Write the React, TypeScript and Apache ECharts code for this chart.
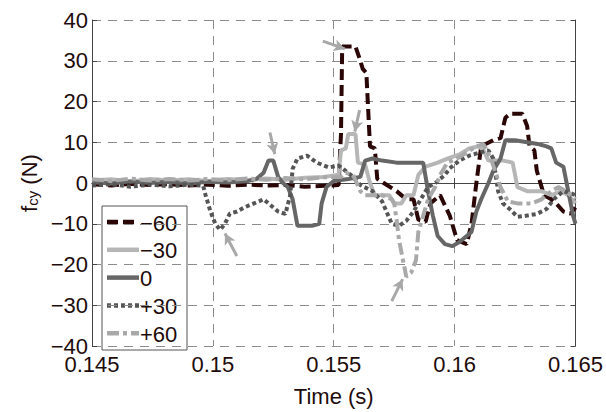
import React, { useEffect, useRef } from 'react';
import * as echarts from 'echarts';

// Axis ranges
const X_MIN = 0.145;
const X_MAX = 0.165;
const X_STEP = 0.005;
const Y_MIN = -40;
const Y_MAX = 40;
const Y_STEP = 10;

// Legend / series names
const NAMES = ['\u221260', '\u221230', '0', '+30', '+60'];

// f_cy (N) vs time (s)
const M60: [number, number][] = [
  [0.145, -0.3], [0.1458, -0.6], [0.1466, -0.2], [0.1474, -0.5], [0.1482, -0.3], [0.149, -0.6],
  [0.1498, -0.4], [0.1506, -0.7], [0.1514, -0.4], [0.1522, -0.6], [0.153, -0.5], [0.1538, -0.9],
  [0.1546, -0.7], [0.1552, -0.5], [0.1553, 12], [0.15535, 33.5], [0.1559, 33.5], [0.1561, 30],
  [0.1562, 28], [0.15635, 27], [0.1565, 9], [0.1567, 8.5], [0.1568, 1], [0.1572, -0.5],
  [0.1576, -2], [0.158, -4], [0.1583, -4], [0.1585, -9], [0.1588, -9.5], [0.159, -5],
  [0.1594, -3], [0.1598, -8], [0.1601, -14], [0.1605, -15], [0.1607, -10], [0.1609, 0],
  [0.1611, 9], [0.1616, 10.5], [0.1619, 11], [0.1621, 16], [0.1623, 17], [0.1628, 17],
  [0.163, 14], [0.1631, 9], [0.1633, 8], [0.1634, 3], [0.1637, -3], [0.164, -4],
  [0.1642, -5], [0.1645, -7], [0.1648, -7.5], [0.165, -6],
];
const M30: [number, number][] = [
  [0.145, 0.6], [0.1458, 0.9], [0.1466, 0.4], [0.1474, 1], [0.1482, 0.6], [0.149, 0.9],
  [0.1498, 0.5], [0.1506, 1], [0.1514, 0.7], [0.1522, 1.1], [0.153, 0.8], [0.1538, 1.3],
  [0.1546, 1.5], [0.1552, 2], [0.1553, 8], [0.1555, 8.5], [0.1556, 12], [0.1559, 12],
  [0.156, 5], [0.1563, 4.5], [0.1565, 0], [0.1567, -3], [0.1573, -3], [0.1575, -5],
  [0.1578, -5], [0.158, -3], [0.1583, -3], [0.1585, 2], [0.1588, 4], [0.1593, 5],
  [0.1597, 6], [0.1602, 7], [0.1606, 8.5], [0.161, 9], [0.1612, 8], [0.1614, 5.5],
  [0.162, 5.5], [0.1624, 5], [0.1626, -1], [0.163, -2], [0.1636, -2], [0.164, -3],
  [0.1644, -2], [0.1647, -3], [0.165, -5],
];
const ZERO: [number, number][] = [
  [0.145, 0.2], [0.1458, -0.1], [0.1466, 0.4], [0.1474, 0], [0.1482, 0.3], [0.149, -0.1],
  [0.1498, 0.3], [0.1506, 0.1], [0.1514, 0.4], [0.1518, 1], [0.1521, 2.5], [0.1523, 5.5],
  [0.1525, 5.5], [0.1527, 1.5], [0.1529, 0], [0.1531, -1], [0.1533, -4], [0.1535, -10.5],
  [0.1541, -10.5], [0.1544, -10], [0.1545, -5], [0.1547, -1], [0.155, 0.5], [0.1556, 1],
  [0.1561, 1.5], [0.1563, 5.5], [0.1566, 6], [0.157, 5.5], [0.1576, 5], [0.1587, 5],
  [0.1589, -2], [0.1591, -8], [0.1593, -13], [0.1596, -15], [0.1599, -15.5], [0.1602, -14.5],
  [0.1605, -13], [0.1607, -12], [0.1609, -7], [0.1611, -4], [0.1614, 0], [0.1616, 3],
  [0.1619, 6], [0.1621, 10.5], [0.1625, 10.5], [0.163, 10], [0.1635, 9.5], [0.1638, 9],
  [0.164, 8.5], [0.1642, 5], [0.1645, 4], [0.1647, -2], [0.1649, -8], [0.165, -10],
];
const P30: [number, number][] = [
  [0.145, -0.6], [0.1458, -0.3], [0.1466, -0.9], [0.1474, -0.4], [0.1482, -0.8], [0.149, -0.4],
  [0.1496, -0.7], [0.1497, -3], [0.1499, -7], [0.1501, -10], [0.1503, -11.5], [0.1505, -10],
  [0.1507, -7.5], [0.151, -7], [0.1513, -6], [0.1517, -5], [0.1521, -4], [0.1524, -5.5],
  [0.1527, -7], [0.153, -7.6], [0.1532, -3], [0.1533, 3.5], [0.1535, 6], [0.1539, 6.7],
  [0.1543, 5], [0.1548, 3.8], [0.1552, 4.3], [0.1557, 2], [0.1561, -0.5], [0.1566, -2],
  [0.157, -4.5], [0.1574, -10], [0.1577, -10.5], [0.158, -9.3], [0.1583, -7], [0.1586, -4],
  [0.1589, -1], [0.1592, 0], [0.1596, 2], [0.1598, 3.6], [0.1602, 5.5], [0.1606, 6.7],
  [0.161, 7.4], [0.1614, 8], [0.1616, 6], [0.1617, 2], [0.1618, -2], [0.162, -5],
  [0.1623, -6.5], [0.1626, -8.3], [0.163, -8], [0.1634, -7.6], [0.1638, -6.4], [0.1641, -4],
  [0.1645, -2], [0.1648, -2.5], [0.165, -3],
];
const P60: [number, number][] = [
  [0.145, 0.9], [0.1458, 0.5], [0.1466, 1.1], [0.1474, 0.6], [0.1482, 1], [0.149, 0.6],
  [0.1498, 1], [0.1506, 0.7], [0.1514, 1.1], [0.1522, 0.8], [0.153, 1.2], [0.1538, 0.9],
  [0.1546, 1.4], [0.1553, 1.5], [0.1555, 2.5], [0.1558, 2], [0.1561, -2], [0.1563, -3],
  [0.157, -3], [0.1574, -4], [0.1575, -5], [0.1576, -9], [0.1577, -14], [0.1579, -20],
  [0.158, -23], [0.1582, -22], [0.1584, -19], [0.1585, -12], [0.1587, -8], [0.1589, -4],
  [0.1592, -1], [0.1594, 2], [0.1597, 5], [0.1601, 6], [0.1605, 7.5], [0.1609, 9],
  [0.1612, 9.5], [0.1615, 6], [0.1617, 2.5], [0.1619, -1], [0.1622, -4.5], [0.1626, -5],
  [0.1632, -5], [0.1636, -4], [0.164, -2], [0.1643, -1], [0.1646, -2], [0.165, -4],
];

// Annotation arrows: [start, end] in data coordinates
const ARROWS: [[number, number], [number, number]][] = [
  [[0.15455, 34.8], [0.15546, 32.9]],
  [[0.15236, 12.4], [0.15256, 7.1]],
  [[0.15607, 17.9], [0.15587, 12.6]],
  [[0.15099, -17.9], [0.1505, -12.4]],
  [[0.1574, -29], [0.15785, -23.6]],
];

const SERIES_DATA = [M60, M30, ZERO, P30, P60];
const COLORS = ['#2a0606', '#b6b6b6', '#666666', '#555555', '#a9a9a9'];
const DASHES: any[] = [[11, 5], 'solid', 'solid', [4, 3], [12, 4, 4, 4]];
const LEGEND_DASH: any[] = [[11, 5], null, null, [4, 3], [12, 4, 4, 4]];

const FONT = 'Liberation Sans';
const TEXT = '#1e0b0b';

function fmtY(v: number) {
  return v < 0 ? '\u2212' + Math.abs(v) : String(v);
}
function fmtX(v: number) {
  return String(+v.toFixed(3));
}

export default function App() {
  const ref = useRef<HTMLDivElement>(null);
  useEffect(() => {
    if (!ref.current) return;
    const chart = echarts.init(ref.current, undefined, { renderer: 'svg' });
    const axisCommon = {
      axisLine: { show: true, lineStyle: { color: '#444', width: 1 } },
      axisTick: { show: true, inside: true, length: 5, lineStyle: { color: '#444' } },
    };
    const series: any[] = SERIES_DATA.map((d, i) => ({
      name: NAMES[i],
      type: 'line',
      data: d,
      symbol: 'none',
      xAxisIndex: 0,
      yAxisIndex: 0,
      lineStyle: { color: COLORS[i], width: 4, type: DASHES[i], cap: 'butt' },
      itemStyle: { color: COLORS[i] },
      silent: true,
    }));
    series.push({
      name: 'arrows',
      type: 'line',
      data: [],
      symbol: 'none',
      silent: true,
      markLine: {
        silent: true,
        symbol: ['none', 'arrow'],
        symbolSize: [9, 11],
        label: { show: false },
        lineStyle: { color: '#a8a8a8', width: 3, type: 'solid' },
        data: ARROWS.map(([a, b]) => [{ coord: a }, { coord: b }]),
      },
    });

    // Legend drawn as a boxed graphic group
    const LG_X = 102, LG_Y = 206, LG_W = 85, LG_H = 144, ROW0 = 222, ROW_STEP = 27.8;
    const legendChildren: any[] = [
      {
        type: 'rect',
        shape: { x: LG_X, y: LG_Y, width: LG_W, height: LG_H },
        style: { fill: '#fff', stroke: '#555', lineWidth: 1 },
      },
    ];
    NAMES.forEach((n, i) => {
      const y = ROW0 + ROW_STEP * i;
      legendChildren.push({
        type: 'line',
        shape: { x1: 107, y1: y, x2: 139, y2: y },
        style: {
          stroke: COLORS[i],
          lineWidth: 4.5,
          lineDash: LEGEND_DASH[i] || undefined,
          lineCap: 'butt',
        },
      });
      legendChildren.push({
        type: 'text',
        x: 140,
        y: y + 1,
        style: {
          text: n,
          fontSize: 22,
          fontFamily: FONT,
          fill: TEXT,
          align: 'left',
          verticalAlign: 'middle',
        },
      });
    });

    chart.setOption({
      animation: false,
      backgroundColor: '#fff',
      grid: { left: 92, right: 30, top: 20, bottom: 55, containLabel: false },
      xAxis: [
        {
          type: 'value', min: X_MIN, max: X_MAX, interval: X_STEP, position: 'bottom',
          ...axisCommon,
          axisLabel: { formatter: fmtX, fontSize: 22, fontFamily: FONT, color: TEXT, margin: 7 },
          splitLine: { show: true, lineStyle: { color: '#8c8c8c', type: [9, 7], width: 1 } },
          name: 'Time (s)', nameLocation: 'middle', nameGap: 39,
          nameTextStyle: { fontSize: 22, fontFamily: FONT, color: TEXT },
        },
        {
          type: 'value', min: X_MIN, max: X_MAX, interval: X_STEP, position: 'top',
          ...axisCommon, axisLabel: { show: false }, splitLine: { show: false },
        },
      ],
      yAxis: [
        {
          type: 'value', min: Y_MIN, max: Y_MAX, interval: Y_STEP, position: 'left',
          ...axisCommon,
          axisLabel: { formatter: fmtY, fontSize: 22, fontFamily: FONT, color: TEXT, margin: 4 },
          splitLine: { show: true, lineStyle: { color: '#8c8c8c', type: [9, 7], width: 1 } },
        },
        {
          type: 'value', min: Y_MIN, max: Y_MAX, interval: Y_STEP, position: 'right',
          ...axisCommon, axisLabel: { show: false }, splitLine: { show: false },
        },
      ],
      graphic: [
        {
          type: 'text',
          x: 29,
          y: 183,
          rotation: Math.PI / 2,
          style: {
            text: '{a|f}{b|cy}{a| (N)}',
            align: 'center',
            verticalAlign: 'middle',
            fill: TEXT,
            rich: {
              a: { fontSize: 22, lineHeight: 22, fontFamily: FONT, fill: TEXT, verticalAlign: 'top' },
              b: { fontSize: 15, lineHeight: 15, fontFamily: FONT, fill: TEXT, verticalAlign: 'bottom' },
            },
          },
        },
        {
          type: 'group',
          z: 100,
          children: legendChildren,
        },
      ],
      series,
    });
    return () => chart.dispose();
  }, []);
  return (
    <div
      ref={ref}
      style={{ position: 'fixed', left: 0, top: 0, width: 606, height: 412, background: '#fff' }}
    />
  );
}
